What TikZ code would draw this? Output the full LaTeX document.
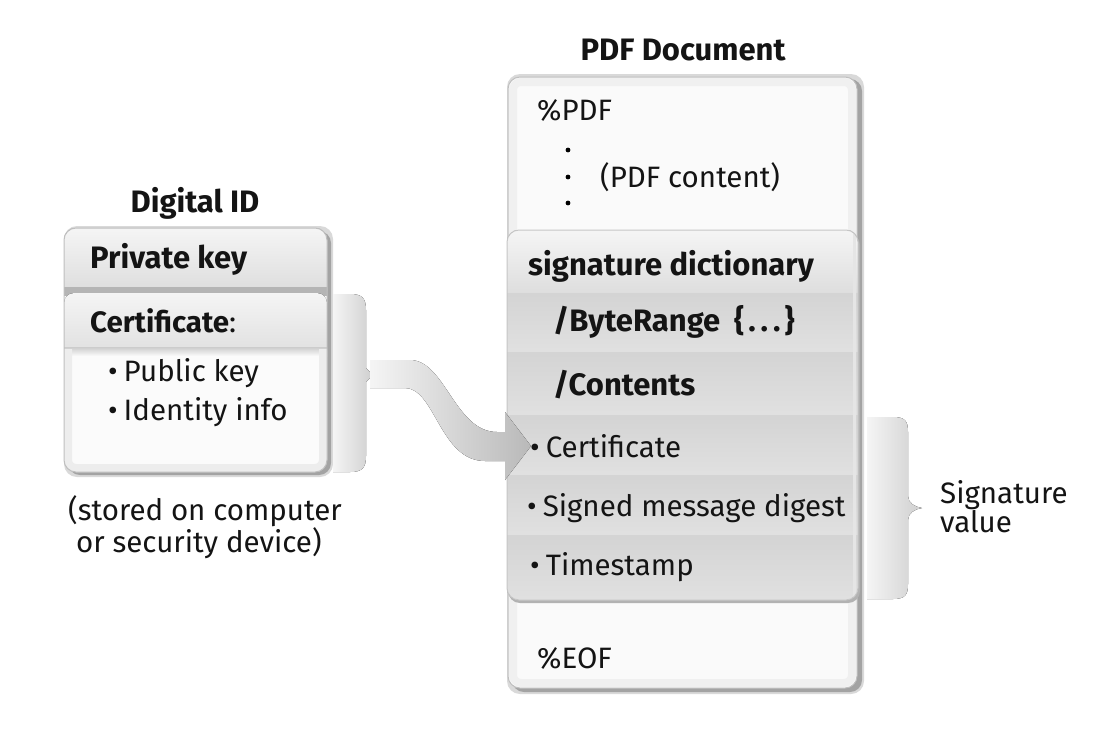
\documentclass[tikz,border=0pt]{standalone}
\usepackage{fontspec}
\setmainfont{Fira Sans}
\begin{document}
\begin{tikzpicture}[x=1pt,y=-1pt]
\tikzset{
 lbl/.style={anchor=base west, inner sep=0pt, font=\fontsize{29.5}{34}\selectfont, text=black!92},
 blbl/.style={lbl, font=\fontsize{31}{34}\selectfont\bfseries},
 ttl/.style={anchor=base, inner sep=0pt, font=\fontsize{31}{34}\selectfont\bfseries, text=black!92},
 rowband/.style={top color=gray!34, middle color=gray!10, bottom color=gray!24},
 headband/.style={top color=gray!8, bottom color=gray!26},
 boxface/.style={fill=gray!4},
 boxedge/.style={draw=gray!50, line width=1},
 shadowfill/.style={fill=gray!72},
 softshadow/.style={fill=gray!30},
 bracefill/.style={left color=gray!8, right color=gray!38},
 bandfill/.style={left color=gray!8, right color=gray!55},
}
\useasboundingbox (0,0) rectangle (1118,732);
\fill[white] (0,0) rectangle (1118,732);

% ---------- Digital ID box ----------
\node[ttl] (didt) at (195,212) {Digital ID};
\fill[softshadow, rounded corners=13] (64,226) rectangle (333,477);
\fill[shadowfill, rounded corners=12] (68,231) rectangle (331,475);
\fill[boxface, rounded corners=12] (64,228) rectangle (327,472);
\begin{scope}
 \clip[rounded corners=12] (64,228) rectangle (327,472);
 \fill[headband] (64,228) rectangle (327,290);
 \fill[gray!58] (64,287) rectangle (327,296);
 \fill[headband, rounded corners=10] (64,293) rectangle (327,360);
 \fill[gray!3] (64,349) rectangle (327,472);
 \fill[top color=gray!40, bottom color=gray!3] (64,347) rectangle (327,356);
 \draw[gray!14, line width=8, rounded corners=8] (68,349) -- (68,468) -- (323,468) -- (323,349);
\end{scope}
\draw[boxedge, rounded corners=12] (64,228) rectangle (327,472);
\node[blbl] (pk) at (90,268) {Private key};
\node[lbl] (cert) at (90,332) {\textbf{Certificate}:};
\node[lbl] (pub) at (108,381) {\textbullet\kern6pt Public key};
\node[lbl] (ident) at (108,420) {\textbullet\kern6pt Identity info};
\node[lbl] (stored1) at (68,520) {(stored on computer};
\node[lbl] (stored2) at (76,552) {or security device)};

% left brace
\fill[bracefill] (333,294) -- (350,294) .. controls (362,294) and (366,298) .. (366,310)
  -- (366,368) -- (373,375) -- (366,382) -- (366,456)
  .. controls (366,468) and (362,472) .. (350,472) -- (333,472) -- cycle;

% ---------- PDF Document box ----------
\node[ttl] (pdft) at (683,60) {PDF Document};
\fill[softshadow, rounded corners=13] (507,74) rectangle (864,694);
\fill[shadowfill, rounded corners=12] (512,79) rectangle (862,692);
\fill[boxface, rounded corners=12] (508,77) rectangle (857,688);
\draw[gray!12, line width=8, rounded corners=8] (513,82) rectangle (852,683);
\draw[boxedge, rounded corners=12] (508,77) rectangle (857,688);
\node[lbl] (pdfh) at (537,120) {\%PDF};
\fill[black] (568,150) circle (2.4) (568,177) circle (2.4) (568,203) circle (2.4);
\node[lbl] (pdfc) at (600,187) {(PDF content)};
\node[lbl] (eof) at (537,668) {\%EOF};

% signature dictionary box
\fill[gray!60, rounded corners=12] (508,233) rectangle (860,603);
\begin{scope}
 \clip[rounded corners=12] (507,230) rectangle (858,600);
 \fill[headband] (507,230) rectangle (858,293);
 \fill[rowband] (507,293) rectangle (858,352);
 \fill[rowband] (507,352) rectangle (858,415);
 \fill[rowband] (507,415) rectangle (858,475);
 \fill[rowband] (507,475) rectangle (858,535);
 \fill[rowband] (507,535) rectangle (858,600);
 \draw[gray!20, line width=3] (854,230) -- (854,600);
\end{scope}
\draw[gray!45, line width=1, rounded corners=12] (507,230) rectangle (858,600);
\node[blbl] (sigd) at (528,275) {signature dictionary};
\node[blbl] (br) at (553,331) {/ByteRange\kern14pt\{\kern4pt.\kern5pt.\kern5pt.\kern4pt\}};
\node[blbl] (cont) at (553,395) {/Contents};
\node[lbl] (scert) at (530,457) {\textbullet\kern6pt Certificate};
\node[lbl] (sdig) at (527,516) {\textbullet\kern6pt Signed message digest};
\node[lbl] (ts) at (530,575) {\textbullet\kern6pt Timestamp};

% right brace
\fill[bracefill] (867,417) -- (893,417) .. controls (905,417) and (908,421) .. (908,432)
  -- (908,496) .. controls (908,503) and (915,507) .. (922,508)
  .. controls (915,509) and (908,513) .. (908,520)
  -- (908,584) .. controls (908,595) and (905,599) .. (893,599) -- (867,599) -- cycle;
\node[lbl] (sv1) at (940,503) {Signature};
\node[lbl] (sv2) at (940,532) {value};

% flow band arrow from Digital ID certificate to PDF certificate
\coordinate (bandstart) at (370,374);
\coordinate (bandtip) at (531,446);
\fill[bandfill] (370,360) -- (410,360) .. controls (445,360) and (455,432) .. (497,432)
  -- (505,432) -- (505,412) -- (bandtip) -- (505,480) -- (505,461) -- (485,461)
  .. controls (440,461) and (435,388) .. (405,388) -- (370,388) -- cycle;
\end{tikzpicture}
\end{document}
